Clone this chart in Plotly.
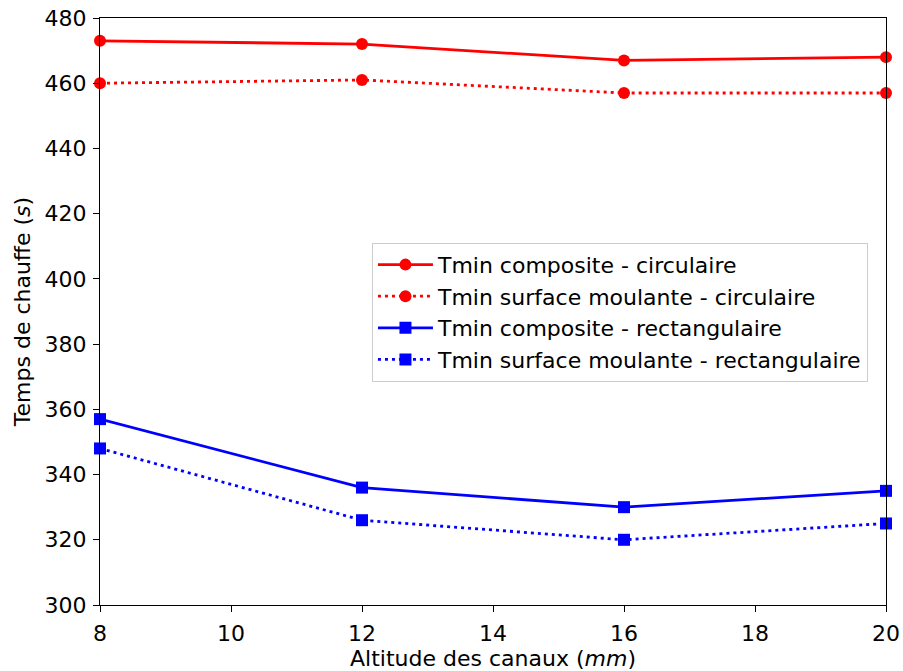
import plotly.graph_objects as go

altitude = [8, 12, 16, 20]
composite_circ = [473, 472, 467, 468]
surface_circ = [460, 461, 457, 457]
composite_rect = [357, 336, 330, 335]
surface_rect = [348, 326, 320, 325]

series = [
    ("Tmin composite - circulaire", composite_circ, "red", "solid", "circle"),
    ("Tmin surface moulante - circulaire", surface_circ, "red", "3px,4px", "circle"),
    ("Tmin composite - rectangulaire", composite_rect, "blue", "solid", "square"),
    ("Tmin surface moulante - rectangulaire", surface_rect, "blue", "3px,4px", "square"),
]

fig = go.Figure()
for i, (name, vals, color, dash, sym) in enumerate(series):
    fig.add_trace(go.Scatter(
        x=altitude, y=vals, name=name, mode="lines+markers",
        legendgroup=f"g{i}",
        line=dict(color=color, width=2.8, dash=dash),
        marker=dict(color=color, symbol=sym, size=12),
        cliponaxis=False,
    ))

axis_common = dict(
    showgrid=False, zeroline=False, showline=True, linecolor="black", linewidth=1.3,
    mirror=True, ticks="outside", ticklen=6, tickwidth=1.2, tickcolor="black",
    tickfont=dict(size=22, color="black"), ticklabelstandoff=2, automargin=False,
)

fig.update_layout(
    width=903, height=671,
    margin=dict(l=100, r=17, t=18, b=66),
    paper_bgcolor="white", plot_bgcolor="white",
    font=dict(family="DejaVu Sans", color="black", size=22),
    xaxis=dict(range=[8, 20], tickvals=[8, 10, 12, 14, 16, 18, 20],
               title=dict(text="Altitude des canaux (<i>mm</i>)", font=dict(size=22), standoff=0),
               **axis_common),
    yaxis=dict(range=[300, 480], tickvals=list(range(300, 481, 20)),
               title=dict(text="Temps de chauffe (<i>s</i>)", font=dict(size=22), standoff=7),
               **axis_common),
    legend=dict(x=0.346, y=0.617, xanchor="left", yanchor="top",
                bgcolor="white", bordercolor="#cccccc", borderwidth=1,
                font=dict(size=22), tracegroupgap=0, itemwidth=55),
    showlegend=True,
)

fig.write_html("out.html")
